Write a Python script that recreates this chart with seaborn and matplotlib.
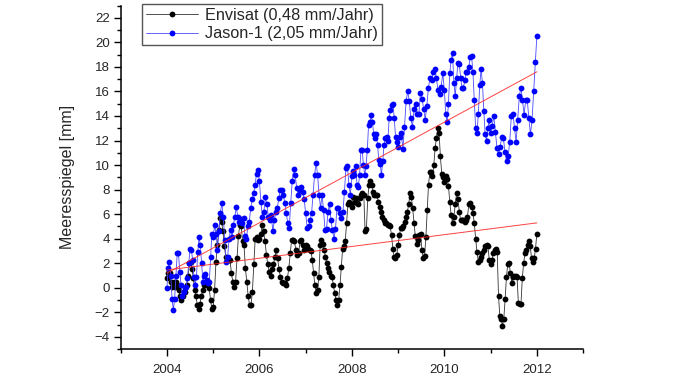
import numpy as np
import seaborn as sns
import matplotlib
matplotlib.use("Agg")
import matplotlib.pyplot as plt
from matplotlib.ticker import MultipleLocator

# Sea level anomaly [mm], one list per calendar year
years = [2004, 2005, 2006, 2007, 2008, 2009, 2010, 2011]

jason_2004 = [0.0, 1.6, 2.1, 1.0, -0.9, -1.8, -0.9, 1.0, 2.8, 2.8, 1.3, 0.2, -0.7, -0.3, 0.0, 0.1, 0.8, 2.0,
              3.2, 3.1, 2.3, 0.9, 0.2, 0.9, 2.9, 4.1, 3.5, 2.0, 0.5, 1.0, 1.1, 0.6, 0.4, 0.5, 2.5, 4.4]
jason_2005 = [4.1, 5.1, 4.4, 3.1, 4.6, 6.1, 6.9, 5.8, 3.9, 2.1, 2.5, 4.0, 4.7, 4.1, 5.1, 5.8, 6.6, 5.8,
              5.4, 5.6, 5.3, 5.7, 4.2, 4.0, 5.0, 5.4, 6.5, 7.2, 7.7, 8.4, 9.3, 9.6]
jason_2006 = [8.7, 7.0, 5.8, 6.2, 7.4, 6.8, 5.8, 5.5, 5.9, 4.6, 5.5, 6.2, 6.5, 7.3, 8.0, 8.0, 7.6, 6.9,
              6.1, 5.3, 4.9, 6.9, 8.7, 9.7, 9.2, 8.1, 7.6, 8.0, 8.2, 7.8, 7.2]
jason_2007 = [6.1, 4.9, 5.0, 5.5, 6.1, 7.6, 9.2, 10.2, 9.2, 7.6, 6.5, 7.6, 6.3, 4.7, 4.8, 6.2, 6.8, 5.5,
              4.7, 4.0, 4.8, 6.5, 6.5, 6.1, 5.7, 6.2, 7.8, 9.8, 9.9, 8.4, 7.6]
jason_2008 = [9.1, 9.5, 9.2, 9.9, 8.4, 8.2, 9.2, 11.2, 11.2, 10.0, 9.2, 9.9, 11.2, 13.3, 13.5, 14.1, 13.5, 12.5,
              12.2, 12.5, 11.6, 10.4, 10.1, 9.2, 10.3, 11.6, 12.2, 12.3, 12.0, 13.8, 14.5, 14.9, 15.0, 13.8, 12.3, 11.9]
jason_2009 = [11.5, 12.3, 12.6, 11.3, 13.1, 15.2, 16.0, 15.2, 13.8, 13.1, 14.6, 15.0, 14.2, 14.2, 15.9, 15.4,
              14.6, 13.7, 14.8, 16.3, 17.1, 16.9, 17.6, 17.8, 17.1, 16.1, 15.8, 16.4, 17.5]
jason_2010 = [16.1, 14.2, 13.5, 15.0, 17.5, 18.6, 19.1, 16.7, 15.6, 17.1, 18.3, 18.2, 17.1, 16.3, 16.3, 16.9,
              17.6, 17.6, 18.0, 18.8, 18.9, 17.6, 15.3, 13.0, 12.6, 14.2, 16.5, 17.8, 16.7, 14.4, 12.5, 12.0, 13.0, 13.7]
jason_2011 = [12.6, 13.2, 14.0, 12.7, 11.4, 10.9, 11.5, 12.3, 12.2, 11.1, 10.3, 10.7, 11.9, 14.0, 14.2, 13.0,
              11.9, 13.7, 15.6, 16.3, 15.3, 14.1, 15.3, 15.3, 13.8, 12.5, 13.7, 16.0, 18.4]
jason_2012 = 20.5

envisat_2004 = [0.8, 1.2, 1.2, 0.5, 0.1, 0.5, 0.1, 0.5, 0.2, -0.2, -0.7, -1.0, -0.7, -0.3, -0.3, 0.2, 1.0, 2.0,
                2.1, 1.5, 0.8, -0.2, -0.7, -1.4, -1.7, -1.3, -0.7, -0.2, 0.2, 0.4, 0.2, 0.4, 0.0, -1.0, -1.7]
envisat_2005 = [-1.6, -0.2, 2.1, 3.5, 4.7, 5.7, 5.4, 4.6, 3.4, 2.5, 2.3, 2.3, 2.3, 1.2, 0.5, 0.1, 0.5, 2.4,
                4.2, 5.1, 5.0, 3.8, 3.5, 1.6, 0.5, -0.7, -1.4, -1.4, -0.3, 1.9, 4.0, 4.1, 3.9]
envisat_2006 = [4.0, 4.4, 5.1, 4.6, 3.8, 2.7, 1.9, 1.3, 1.0, 1.5, 1.9, 2.5, 3.1, 2.4, 1.5, 0.9, 0.5, 0.4,
                0.4, 0.2, 0.8, 1.6, 2.8, 3.9, 3.9, 3.8, 3.1, 2.7, 2.8, 3.8, 3.9, 3.5, 3.1]
envisat_2007 = [3.5, 3.4, 3.2, 3.1, 3.0, 2.3, 1.2, 0.2, -0.4, -0.2, 0.9, 3.5, 3.9, 3.6, 3.1, 2.5, 2.0, 1.6,
                1.3, 1.0, 0.9, 0.2, -0.4, -1.0, -1.4, -1.0, 0.2, 1.7, 3.2, 3.4, 3.8, 5.3, 6.8, 7.0, 6.8]
envisat_2008 = [6.6, 7.4, 7.0, 7.3, 6.9, 6.8, 7.3, 7.6, 7.7, 7.6, 4.6, 4.8, 7.3, 8.4, 8.7, 8.4, 7.8, 7.6,
                7.6, 7.6, 7.0, 6.6, 6.2, 5.8, 5.5, 5.3, 5.3, 5.1, 5.1, 5.0, 4.3, 3.2, 2.5, 2.4, 2.7]
envisat_2009 = [3.5, 4.3, 4.9, 4.9, 5.0, 5.4, 5.8, 6.2, 6.8, 7.7, 7.4, 6.5, 5.3, 4.2, 3.6, 3.9, 4.3, 4.4,
                3.1, 2.4, 2.6, 4.1, 6.3, 8.4, 9.4, 9.4, 9.1, 10.0, 11.4, 12.2, 13.0, 12.6, 10.7, 9.3, 9.0]
envisat_2010 = [8.6, 9.1, 8.9, 8.3, 7.0, 5.9, 5.3, 5.8, 6.8, 7.7, 7.2, 6.2, 5.5, 5.5, 5.5, 5.4, 5.5, 5.8,
                6.8, 6.9, 6.6, 6.1, 5.3, 4.0, 2.9, 2.1, 2.3, 2.5, 2.8, 3.1, 3.4, 3.5, 3.4, 2.3]
envisat_2011 = [1.9, 2.3, 2.8, 3.1, 3.2, 2.9, -0.7, -2.3, -2.5, -3.1, -2.5, -0.9, 0.9, 1.9, 2.0, 1.2, 0.4, 0.9,
                1.0, 1.0, 0.9, -1.2, -1.3, -1.3, 0.8, 2.0, 2.8, 3.1, 3.5, 3.8, 3.4, 2.4, 2.1, 2.4, 3.2]
envisat_2012 = 4.4

# linear trends (rates from the legend, level at start of 2004)
envisat_rate, envisat_start = 0.48, 1.45
jason_rate, jason_start = 2.05, 1.2
trend_years = [2004, 2012]


def build_series(chunks, end_value):
    # cycles are spread evenly through each year, last cycle sits on 2012.0
    xs = [y + np.arange(len(c)) / len(c) for y, c in zip(years, chunks)]
    x = np.concatenate(xs + [[years[-1] + 1]])
    y = np.concatenate([np.asarray(c, float) for c in chunks] + [[end_value]])
    return x, y


envisat_x, envisat_y = build_series(
    [envisat_2004, envisat_2005, envisat_2006, envisat_2007,
     envisat_2008, envisat_2009, envisat_2010, envisat_2011], envisat_2012)
jason_x, jason_y = build_series(
    [jason_2004, jason_2005, jason_2006, jason_2007,
     jason_2008, jason_2009, jason_2010, jason_2011], jason_2012)

sns.set_theme(style="ticks")
plt.rcParams["font.family"] = ["Liberation Sans", "DejaVu Sans"]

fig = plt.figure(figsize=(6.78, 3.81), dpi=100)
ax = fig.add_axes([0.178, 0.0835, 0.682, 0.902])

envisat_label = f"Envisat ({envisat_rate:.2f} mm/Jahr)".replace(".", ",")
jason_label = f"Jason-1 ({jason_rate:.2f} mm/Jahr)".replace(".", ",")

sns.lineplot(x=envisat_x, y=envisat_y, color="#333333", linewidth=0.6, marker="o",
             markerfacecolor="black", markersize=4.2, markeredgewidth=0, errorbar=None,
             label=envisat_label, ax=ax)
sns.lineplot(x=jason_x, y=jason_y, color="#4a4aff", linewidth=0.6, marker="o",
             markerfacecolor="#0000ff", markersize=4.2, markeredgewidth=0, errorbar=None,
             label=jason_label, ax=ax)

tx = np.array(trend_years, float)
for rate, start in [(envisat_rate, envisat_start), (jason_rate, jason_start)]:
    sns.lineplot(x=tx, y=start + rate * (tx - trend_years[0]), color="#ff2020",
                 linewidth=0.7, alpha=0.85, errorbar=None, ax=ax, zorder=5)

ax.set_xlim(2003, 2013)
ax.set_ylim(-5, 23)
ax.xaxis.set_major_locator(MultipleLocator(2))
ax.xaxis.set_minor_locator(MultipleLocator(1))
ax.yaxis.set_major_locator(MultipleLocator(2))
ax.yaxis.set_minor_locator(MultipleLocator(1))
ax.tick_params(which="major", direction="out", length=5, width=1, labelsize=9.5, color="black")
ax.tick_params(which="minor", direction="out", length=3, width=1, color="black")
ax.tick_params(axis="x", pad=6)
ax.tick_params(axis="y", pad=3)

ax.set_xlabel("")
ax.set_ylabel("Meeresspiegel [mm]", fontsize=11.5, labelpad=14)
sns.despine(ax=ax)
for s in ["left", "bottom"]:
    ax.spines[s].set_color("black")
    ax.spines[s].set_linewidth(1.1)

handles, labels = ax.get_legend_handles_labels()
leg = ax.legend(handles[:2], labels[:2], loc="upper left", bbox_to_anchor=(142 / 678, 1 - 4 / 381),
                bbox_transform=fig.transFigure, fontsize=11.7, frameon=True, fancybox=False,
                edgecolor="#555555", framealpha=1, handlelength=3.2, labelspacing=0.2,
                borderpad=0.25, handletextpad=0.4, borderaxespad=0)
leg.get_frame().set_linewidth(1.0)

fig.savefig("out.png", dpi=100)
